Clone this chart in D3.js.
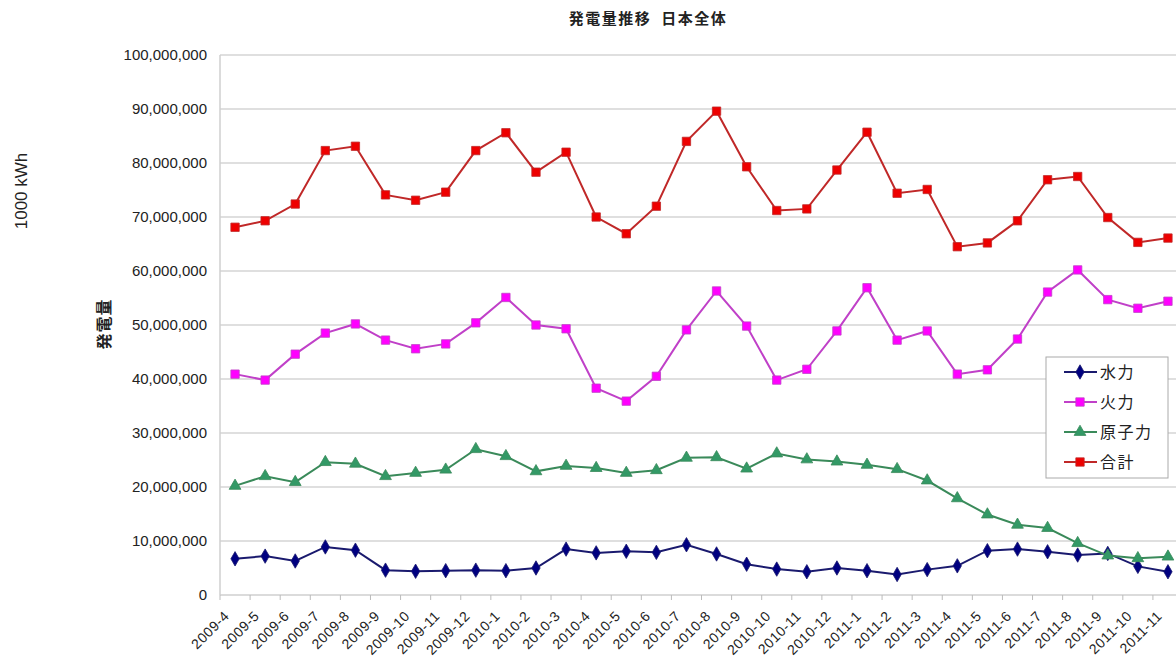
<!DOCTYPE html>
<html><head><meta charset="utf-8">
<script src="https://cdn.jsdelivr.net/npm/d3@7"></script>
<style>
body{margin:0;background:#fff;}
svg{display:block;}
text{font-family:"Liberation Sans",Arial,sans-serif;fill:#222;}
.jp{font-family:"Noto Sans CJK JP","Liberation Sans",sans-serif;}
</style></head><body>
<svg id="c" width="1176" height="661"></svg>
<script>
const months = ["2009-4","2009-5","2009-6","2009-7","2009-8","2009-9","2009-10","2009-11","2009-12",
"2010-1","2010-2","2010-3","2010-4","2010-5","2010-6","2010-7","2010-8","2010-9","2010-10","2010-11","2010-12",
"2011-1","2011-2","2011-3","2011-4","2011-5","2011-6","2011-7","2011-8","2011-9","2011-10","2011-11"];
const hydro = [6.7,7.2,6.3,8.9,8.3,4.6,4.4,4.5,4.6,4.5,5.0,8.5,7.8,8.1,7.9,9.3,7.6,5.7,4.8,4.3,5.0,4.5,3.8,4.7,5.4,8.2,8.5,8.0,7.4,7.7,5.3,4.3];
const thermal = [40.9,39.8,44.6,48.5,50.2,47.2,45.6,46.5,50.4,55.1,50.0,49.3,38.3,35.9,40.5,49.1,56.3,49.8,39.8,41.8,48.9,56.9,47.2,48.9,40.9,41.7,47.4,56.1,60.2,54.7,53.1,54.4];
const nuclear = [20.2,22.0,20.9,24.6,24.3,22.0,22.6,23.2,27.0,25.7,22.9,23.9,23.5,22.6,23.1,25.4,25.5,23.4,26.2,25.1,24.7,24.1,23.3,21.2,17.9,14.9,13.0,12.4,9.6,7.3,6.8,7.1];
const total = [68.1,69.3,72.4,82.3,83.1,74.1,73.1,74.6,82.3,85.6,78.3,82.0,70.0,66.9,72.0,84.0,89.6,79.3,71.2,71.5,78.7,85.7,74.4,75.1,64.5,65.2,69.3,76.9,77.5,69.9,65.3,66.1];
const yTicks = [0,10,20,30,40,50,60,70,80,90,100];
const seriesNames = ["水力","火力","原子力","合計"];
const title = "発電量推移  日本全体";
const yTitle = "発電量";
const unitLabel = "1000 kWh";

const series = [
  {name:seriesNames[0], values:hydro,  line:"#1a1a6e", fill:"#000080", shape:d3.symbolDiamond, size:60},
  {name:seriesNames[1], values:thermal,line:"#c040c8", fill:"#ff00ff", shape:d3.symbolSquare, size:70},
  {name:seriesNames[2], values:nuclear,line:"#3a8a5a", fill:"#339966", shape:d3.symbolTriangle, size:60},
  {name:seriesNames[3], values:total,  line:"#c02828", fill:"#ee0000", shape:d3.symbolSquare, size:70}
];

const svg = d3.select("#c");
const pL=220, pR=1183, pT=55, pB=595;
const x = d3.scaleBand().domain(months).range([pL,pR]);
const y = d3.scaleLinear().domain([0,100]).range([pB,pT]);

svg.append("g").selectAll("line").data(yTicks.filter(d=>d>0)).join("line")
  .attr("x1",pL).attr("x2",pR).attr("y1",d=>y(d)).attr("y2",d=>y(d))
  .attr("stroke","#d4d4d4").attr("stroke-width",1.5);

svg.append("line").attr("x1",pL).attr("x2",pL).attr("y1",pT).attr("y2",pB).attr("stroke","#cfcfcf").attr("stroke-width",1.5);
svg.append("line").attr("x1",pL).attr("x2",pR).attr("y1",pB).attr("y2",pB).attr("stroke","#cfcfcf").attr("stroke-width",1.5);

const fmt = d3.format(",");
svg.append("g").selectAll("text").data(yTicks).join("text")
  .attr("x",207).attr("y",d=>y(d)).attr("dy","0.36em").attr("text-anchor","end")
  .attr("font-size",15).text(d=>fmt(d*1000000));

const bounds = months.map(m=>x(m)).concat([pR]);
svg.append("g").selectAll("line").data(bounds).join("line")
  .attr("x1",d=>d).attr("x2",d=>d).attr("y1",pB).attr("y2",pB+5)
  .attr("stroke","#bbb").attr("stroke-width",1);

svg.append("g").selectAll("text").data(months).join("text")
  .attr("transform",d=>`translate(${x(d)+x.bandwidth()/2-5},${pB+22}) rotate(-45)`)
  .attr("text-anchor","end").attr("font-size",14).attr("letter-spacing","0.5px").text(d=>d);

const line = d3.line().x((d,i)=>x(months[i])+x.bandwidth()/2).y(d=>y(d));
series.forEach(s=>{
  svg.append("path").datum(s.values).attr("d",line).attr("fill","none")
    .attr("stroke",s.line).attr("stroke-width",2);
  svg.append("g").selectAll("path").data(s.values).join("path")
    .attr("transform",(d,i)=>`translate(${x(months[i])+x.bandwidth()/2},${y(d)})`)
    .attr("d",d3.symbol().type(s.shape).size(s.size))
    .attr("fill",s.fill).attr("stroke",s.line).attr("stroke-width",0.8);
});

svg.append("text").attr("class","jp").attr("x",648).attr("y",24).attr("text-anchor","middle")
  .attr("font-size",15).attr("letter-spacing","1.5px").attr("font-weight","bold")
  .style("white-space","pre").text(title);
svg.append("text").attr("class","jp").attr("transform","translate(110,324) rotate(-90)")
  .attr("text-anchor","middle").attr("font-size",16).attr("letter-spacing","1px").attr("font-weight","bold").text(yTitle);
svg.append("text").attr("transform","translate(27,191) rotate(-90)")
  .attr("text-anchor","middle").attr("font-size",17).text(unitLabel);

const lg = svg.append("g");
lg.append("rect").attr("x",1046).attr("y",357).attr("width",122).attr("height",121)
  .attr("fill","#fff").attr("stroke","#aaa").attr("stroke-width",1);
series.forEach((s,i)=>{
  const ly = 372 + i*30;
  lg.append("line").attr("x1",1064).attr("x2",1097).attr("y1",ly).attr("y2",ly).attr("stroke",s.line).attr("stroke-width",2);
  lg.append("path").attr("transform",`translate(1080,${ly})`).attr("d",d3.symbol().type(s.shape).size(s.size))
    .attr("fill",s.fill).attr("stroke",s.line).attr("stroke-width",0.8);
  lg.append("text").attr("class","jp").attr("x",1100).attr("y",ly).attr("dy","0.36em")
    .attr("font-size",16).attr("letter-spacing","1.5px").text(s.name);
});
</script>
</body></html>
